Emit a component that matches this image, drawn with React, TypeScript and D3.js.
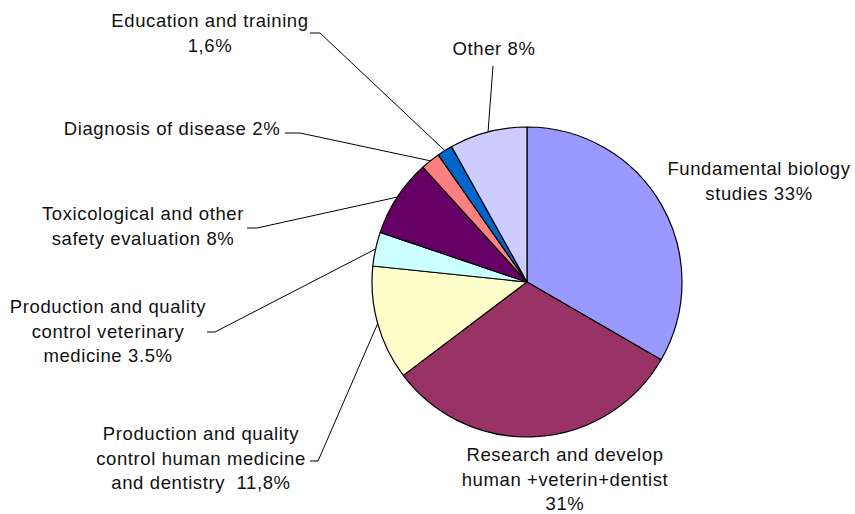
import { useMemo } from "react";
import * as d3 from "d3";

const WIDTH = 855;
const HEIGHT = 514;
const CENTER = { x: 527, y: 282 };
const RADIUS = 155;

const categories = [
  "Fundamental biology studies",
  "Research and develop human +veterin+dentist",
  "Production and quality control human medicine and dentistry",
  "Production and quality control veterinary medicine",
  "Toxicological and other safety evaluation",
  "Diagnosis of disease",
  "Education and training",
  "Other",
];
const shares = [33, 31, 11.8, 3.5, 8, 2, 1.6, 8];
const colors = ["#9999FF", "#993366", "#FFFFCC", "#CCFFFF", "#660066", "#FF8080", "#0066CC", "#CCCCFF"];
const labelLines = [
  ["Fundamental biology", "studies 33%"],
  ["Research and develop", "human +veterin+dentist", "31%"],
  ["Production and quality", "control human medicine", "and dentistry  11,8%"],
  ["Production and quality", "control veterinary", "medicine 3.5%"],
  ["Toxicological and other", "safety evaluation 8%"],
  ["Diagnosis of disease 2%"],
  ["Education and training", "1,6%"],
  ["Other 8%"],
];

// label block placement: centre x, first baseline y
const labelPos: [number, number][] = [
  [759, 175],
  [565, 461],
  [201, 440],
  [108, 313],
  [143, 220],
  [172, 135],
  [210, 27],
  [494, 55],
];
// leader start + knee, null = no leader
const leaders: ([number, number][] | null)[] = [
  null,
  null,
  [[310, 461], [318, 461]],
  [[207, 332], [215, 332]],
  [[247, 228], [257, 228]],
  [[285, 133], [300, 133]],
  [[310, 33], [320, 33]],
  [[493, 66], [493, 66]],
];

const LINE_H = 24.5;

const App = () => {
  const arcs = useMemo(
    () =>
      d3
        .pie<number>()
        .sort(null)
        .value((d) => d)(shares),
    []
  );
  const arcGen = d3.arc<d3.PieArcDatum<number>>().innerRadius(0).outerRadius(RADIUS);

  const edgePoint = (a: d3.PieArcDatum<number>) => {
    const mid = (a.startAngle + a.endAngle) / 2;
    return [CENTER.x + RADIUS * Math.sin(mid), CENTER.y - RADIUS * Math.cos(mid)];
  };

  return (
    <svg
      width={WIDTH}
      height={HEIGHT}
      style={{ position: "absolute", left: 0, top: 0, background: "#fff" }}
      fontFamily="'Liberation Sans', Arial, sans-serif"
      fontSize={18.5}
    >
      <rect width={WIDTH} height={HEIGHT} fill="#fff" />
      <g transform={`translate(${CENTER.x},${CENTER.y})`}>
        {arcs.map((a, i) => (
          <path key={categories[i]} d={arcGen(a) || ""} fill={colors[i]} stroke="#000" strokeWidth={1.2} strokeLinejoin="round" />
        ))}
      </g>
      {arcs.map((a, i) => {
        const l = leaders[i];
        if (!l) return null;
        const p = edgePoint(a);
        const line = d3.line()([...l, p as [number, number]]);
        return <path key={"l" + i} d={line || ""} fill="none" stroke="#000" strokeWidth={1} />;
      })}
      {labelLines.map((lines, i) => (
        <text key={"t" + i} textAnchor="middle" fill="#111" letterSpacing={0.6}>
          {lines.map((s, j) => (
            <tspan key={j} x={labelPos[i][0]} y={labelPos[i][1] + j * LINE_H} style={{ whiteSpace: "pre" }}>
              {s}
            </tspan>
          ))}
        </text>
      ))}
    </svg>
  );
};

export default App;
